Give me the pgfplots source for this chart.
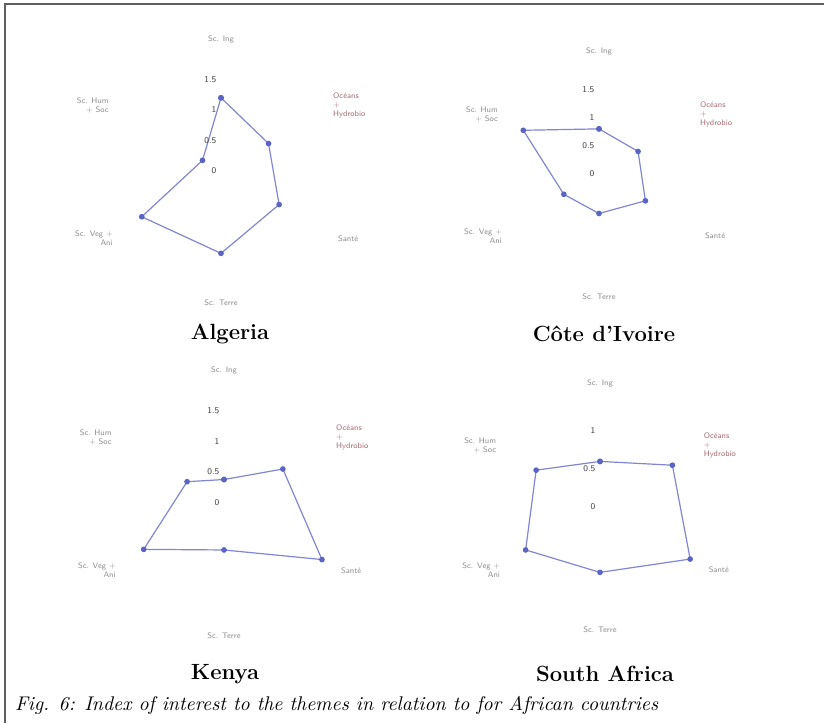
\documentclass[border=0pt]{standalone}
\usepackage{pgfplots}
\pgfplotsset{compat=1.18}
\usepackage{pgfplotstable}
\usepgfplotslibrary{polar}

\definecolor{lineblue}{RGB}{128,134,210}
\definecolor{markblue}{RGB}{90,100,195}
\definecolor{catgray}{RGB}{140,140,140}
\definecolor{catred}{RGB}{165,105,115}
\definecolor{framegray}{RGB}{95,95,95}

% angle (deg), index value
\pgfplotstableread{
a r
90 1.20
30 0.90
330 1.10
270 1.35
210 1.50
150 0.35
90 1.20
}\algeria
\pgfplotstableread{
a r
90 0.80
30 0.80
330 0.95
270 0.70
210 0.72
150 1.55
90 0.80
}\ivoire
\pgfplotstableread{
a r
90 0.38
30 1.10
330 1.83
270 0.76
210 1.50
150 0.69
90 0.38
}\kenya
\pgfplotstableread{
a r
90 0.60
30 1.10
330 1.37
270 0.86
210 1.13
150 0.97
90 0.60
}\safrica

\newcommand{\catfont}{\sffamily\fontsize{4}{4.5}\selectfont}
\newcommand{\tickfont}{\sffamily\fontsize{4.4}{5}\selectfont}
% #1 radius of top/bottom labels, #2 radius of side labels
\newcommand{\radarlabels}[2]{%
  \node[catgray, font=\catfont] at (axis cs:90,#1) {Sc. Ing};
  \node[catred, font=\catfont, align=left] at (axis cs:27,#2) {Oc\'eans\\+\\Hydrobio};
  \node[catgray, font=\catfont] at (axis cs:332,#2) {Sant\'e};
  \node[catgray, font=\catfont] at (axis cs:270,#1) {Sc. Terre};
  \node[catgray, font=\catfont, align=right] at (axis cs:208,#2) {Sc. Veg +\\Ani};
  \node[catgray, font=\catfont, align=right] at (axis cs:153,#2) {Sc. Hum\\+ Soc};
}
\newcommand{\ticklabel}[1]{%
  \node[black!75, font=\tickfont, anchor=east, xshift=1.2pt] at (axis cs:90,#1) {#1};
}

\pgfplotsset{
  radar/.style={
    scale only axis, hide axis, clip=false,
    xmin=0, xmax=360, ymin=0, anchor=center,
  },
  radarline/.style={
    color=lineblue, line width=0.6pt, mark=*, mark size=1.1pt,
    mark options={fill=markblue, draw=markblue},
  },
}

\begin{document}
\begin{tikzpicture}
\path[use as bounding box] (0pt,0pt) rectangle (412pt,-361.5pt);
\draw[framegray, line width=0.9pt] (2.5pt,-361.5pt) -- (2.5pt,-2pt) -- (412pt,-2pt);

% Algeria
\begin{polaraxis}[radar, at={(110.5pt,-85.5pt)}, width=122pt, height=122pt, ymax=2]
  \addplot[radarline] table[x=a, y=r] {\algeria};
  \radarlabels{2.16}{2.36}
  \ticklabel{0}\ticklabel{0.5}\ticklabel{1}\ticklabel{1.5}
\end{polaraxis}

% Cote d'Ivoire
\begin{polaraxis}[radar, at={(299.5pt,-87pt)}, width=112.8pt, height=112.8pt, ymax=2]
  \addplot[radarline] table[x=a, y=r] {\ivoire};
  \radarlabels{2.17}{2.33}
  \ticklabel{0}\ticklabel{0.5}\ticklabel{1}\ticklabel{1.5}
\end{polaraxis}

% Kenya
\begin{polaraxis}[radar, at={(112pt,-251.5pt)}, width=123.6pt, height=123.6pt, ymax=2]
  \addplot[radarline] table[x=a, y=r] {\kenya};
  \radarlabels{2.15}{2.33}
  \ticklabel{0}\ticklabel{0.5}\ticklabel{1}\ticklabel{1.5}
\end{polaraxis}

% South Africa
\begin{polaraxis}[radar, at={(300pt,-253.5pt)}, width=114pt, height=114pt, ymax=1.5]
  \addplot[radarline] table[x=a, y=r] {\safrica};
  \radarlabels{1.62}{1.77}
  \ticklabel{0}\ticklabel{0.5}\ticklabel{1}
\end{polaraxis}

\node[font=\bfseries\fontsize{11}{13}\selectfont] at (115pt,-167pt) {Algeria};
\node[font=\bfseries\fontsize{11}{13}\selectfont] at (302pt,-167pt) {C\^ote d'Ivoire};
\node[font=\bfseries\fontsize{11}{13}\selectfont] at (112.5pt,-337pt) {Kenya};
\node[font=\bfseries\fontsize{11}{13}\selectfont] at (302.5pt,-337pt) {South Africa};
\node[anchor=west, font=\itshape\fontsize{9.9}{12}\selectfont] at (4pt,-352.5pt)
  {Fig. 6: Index of interest to the themes in relation to for African countries};
\end{tikzpicture}
\end{document}
